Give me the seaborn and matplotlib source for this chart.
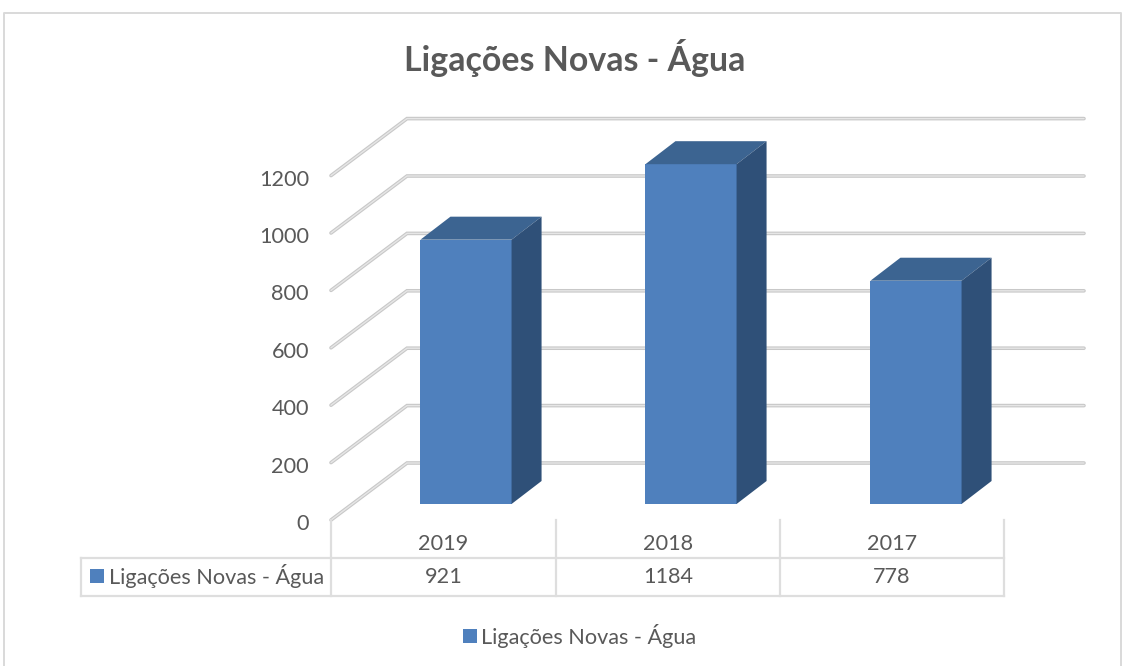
import matplotlib
matplotlib.use("Agg")
import matplotlib.pyplot as plt
import seaborn as sns
import pandas as pd

title = "Ligações Novas - Água"
series_name = "Ligações Novas - Água"
years = ["2019", "2018", "2017"]
values = [921, 1184, 778]
ticks = [0, 200, 400, 600, 800, 1000, 1200]

sns.set_theme(style="white")
plt.rcParams["font.family"] = ["Lato", "DejaVu Sans"]

W, H = 1130, 666
PX_X = 225.0      # pixels per category
PX_Y = 0.287      # pixels per value unit
X0, Y0 = 466.0, 504.0   # pixel of first bar centre, baseline of bars

TXT = "#595959"
FRONT, TOP, SIDE = "#4f80bd", "#3c6491", "#2f5078"
GRID, GRID_D = "#dcdcdc", "#c8c8c8"
TBL = "#dedede"
FS = 15.6

fig = plt.figure(figsize=(W / 100, H / 100), dpi=100)
ax = fig.add_axes([0, 0, 1, 1])

df = pd.DataFrame({"year": years, "value": values})
sns.barplot(data=df, x="year", y="value", order=years, color=FRONT, saturation=1,
            width=0.405, ax=ax, zorder=5, linewidth=0)

ax.set_xlim((0 - X0) / PX_X, (W - X0) / PX_X)
ax.set_ylim((Y0 - H) / PX_Y, Y0 / PX_Y)
ax.axis("off")


def dx(p):
    return p / PX_X


def dy(p):
    return p / PX_Y


def xp(p):
    return (p - X0) / PX_X


def yp(p):
    return (Y0 - p) / PX_Y


# 3D faces of each bar, derived from the bars themselves
DEPTH_X, DEPTH_Y = 30, 23
for rect in ax.patches:
    l, r = rect.get_x(), rect.get_x() + rect.get_width()
    h = rect.get_height()
    ox, oy = dx(DEPTH_X), dy(DEPTH_Y)
    ax.fill([l, r, r + ox, l + ox], [h, h, h + oy, h + oy], color=TOP, lw=0, zorder=5)
    ax.fill([r, r + ox, r + ox, r], [0, oy, h + oy, h], color=SIDE, lw=0, zorder=5)

# Wall and floor gridlines
front_x, back_x, end_x = xp(331), xp(407), xp(1084)
shift_front = dy(-16)   # front plane baseline lies below the bars
shift_back = dy(41)     # wall baseline lies above the bars
for t in ticks:
    xs = [front_x, back_x, end_x]
    ys = [t + shift_front, t + shift_back, t + shift_back]
    ax.plot(xs, ys, color=GRID_D, lw=2.6, zorder=1, solid_capstyle="round", solid_joinstyle="miter")
    ax.plot(xs, ys, color="#e6e6e6", lw=1.0, zorder=2, solid_capstyle="round", solid_joinstyle="miter")
    ax.text(xp(309), t + shift_front - dy(4), str(t), ha="right", va="center",
            fontsize=FS, color=TXT)

# Data table
tbl_top, tbl_bot, tick_top = yp(558), yp(596), yp(520)
tl, tm = xp(81), xp(331)
edges = [xp(331), xp(556), xp(780), xp(1004)]
line_kw = dict(color=TBL, lw=1.6, zorder=3, solid_capstyle="projecting")
ax.plot([tl, edges[-1]], [tbl_top, tbl_top], **line_kw)
ax.plot([tl, edges[-1]], [tbl_bot, tbl_bot], **line_kw)
ax.plot([tl, tl], [tbl_top, tbl_bot], **line_kw)
for e in edges:
    ax.plot([e, e], [tick_top, tbl_bot], **line_kw)
for i, (yr, v) in enumerate(zip(years, values)):
    cx = (edges[i] + edges[i + 1]) / 2
    ax.text(cx, yp(544), yr, ha="center", va="center", fontsize=FS, color=TXT)
    ax.text(cx, yp(577), str(v), ha="center", va="center", fontsize=FS, color=TXT)

# Series key in the table
ax.fill([xp(90), xp(104), xp(104), xp(90)], [yp(569), yp(569), yp(583), yp(583)], color=FRONT, lw=0)
ax.text(xp(109), yp(576), series_name, ha="left", va="center", fontsize=FS, color=TXT)

# Legend
ax.fill([xp(463), xp(477), xp(477), xp(463)], [yp(629), yp(629), yp(643), yp(643)], color=FRONT, lw=0)
ax.text(xp(481), yp(636), series_name, ha="left", va="center", fontsize=FS, color=TXT)

# Title
ax.text(xp(574.5), yp(58), title, ha="center", va="center", fontsize=24.4, fontweight="bold", color=TXT)

# Chart frame
ax.plot([xp(4), xp(4), xp(1121), xp(1121)], [yp(H), yp(13), yp(13), yp(H)],
        color="#d9d9d9", lw=1.4, zorder=0)

fig.savefig("out.png", dpi=100, facecolor="white")
